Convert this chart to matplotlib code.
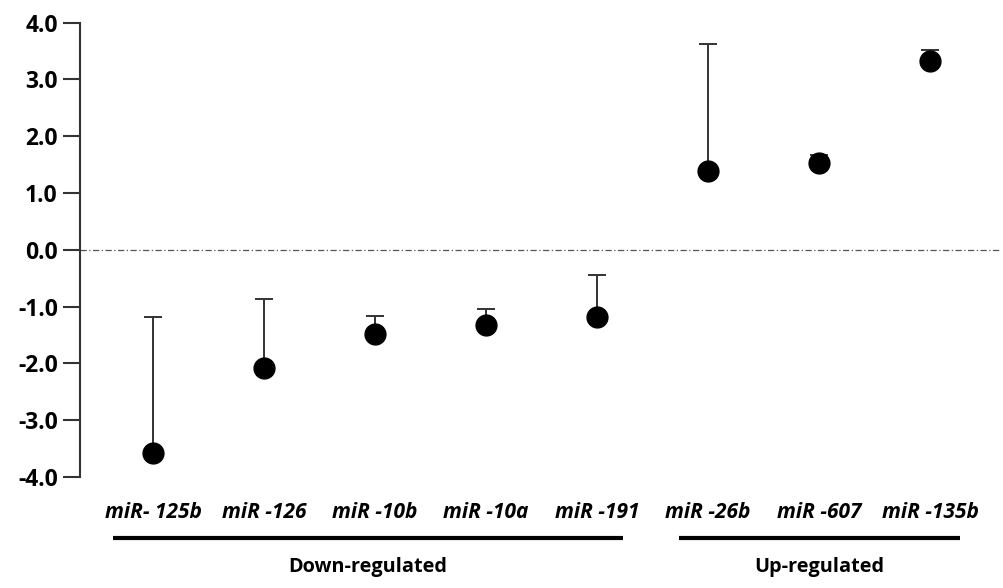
import matplotlib
matplotlib.use("Agg")
import matplotlib.pyplot as plt
import matplotlib.transforms as mtransforms
import numpy as np

plt.rcParams['font.family'] = ['Open Sans', 'DejaVu Sans']

labels = ["miR- 125b", "miR -126", "miR -10b", "miR -10a", "miR -191",
          "miR -26b", "miR -607", "miR -135b"]
values = [-3.58, -2.08, -1.48, -1.32, -1.18, 1.38, 1.52, 3.33]
upper = [-1.19, -0.87, -1.17, -1.04, -0.44, 3.63, 1.67, 3.52]
groups = ["Down-regulated", "Up-regulated"]
group_members = [[0, 1, 2, 3, 4], [5, 6, 7]]
yticks = [-4.0, -3.0, -2.0, -1.0, 0.0, 1.0, 2.0, 3.0, 4.0]

fig = plt.figure(figsize=(10.04, 5.88), dpi=100)
ax = fig.add_axes([80 / 1004, 1 - 477 / 588, 920 / 1004, (477 - 22.5) / 588])

x = np.arange(len(labels))
vals = np.array(values)
err_up = np.array(upper) - vals
ax.errorbar(x, vals, yerr=[np.zeros_like(vals), err_up], fmt='o', color='black',
            ecolor='#333333', elinewidth=1.4, capsize=6.5, capthick=1.4,
            markersize=15, zorder=3)

ax.axhline(0, color='#555555', linewidth=0.9, linestyle=(0, (5, 2, 1, 2)), zorder=1)

ax.set_xlim((80 - 153) / 111, (1000 - 153) / 111)
ax.set_ylim(-4, 4)
ax.set_yticks(yticks)
ax.set_yticklabels([f"{t:.1f}" for t in yticks], fontsize=16.5, fontweight='bold')
ax.set_xticks([])
for s in ['top', 'right', 'bottom']:
    ax.spines[s].set_visible(False)
ax.spines['left'].set_linewidth(1.5)
ax.spines['left'].set_color('#333333')
ax.tick_params(axis='y', direction='out', length=12, width=1.5, color='#333333', pad=4)

trans = mtransforms.blended_transform_factory(ax.transData, fig.transFigure)
for xi, lab in zip(x, labels):
    ax.text(xi, 1 - 512 / 588, lab, transform=trans, ha='center', va='center',
            fontsize=15, fontweight='bold', fontstyle='italic', clip_on=False)

pads = [(-0.36, 0.23), (-0.26, 0.27)]
for g, members, (pl, pr) in zip(groups, group_members, pads):
    x0 = members[0] + pl
    x1 = members[-1] + pr
    ax.plot([x0, x1], [1 - 538 / 588] * 2, transform=trans, color='black',
            linewidth=3, clip_on=False, solid_capstyle='butt')
    ax.text((x0 + x1) / 2, 1 - 567 / 588, g, transform=trans, ha='center', va='center',
            fontsize=14.3, fontweight='bold', clip_on=False)

fig.savefig("out.png", dpi=100)
